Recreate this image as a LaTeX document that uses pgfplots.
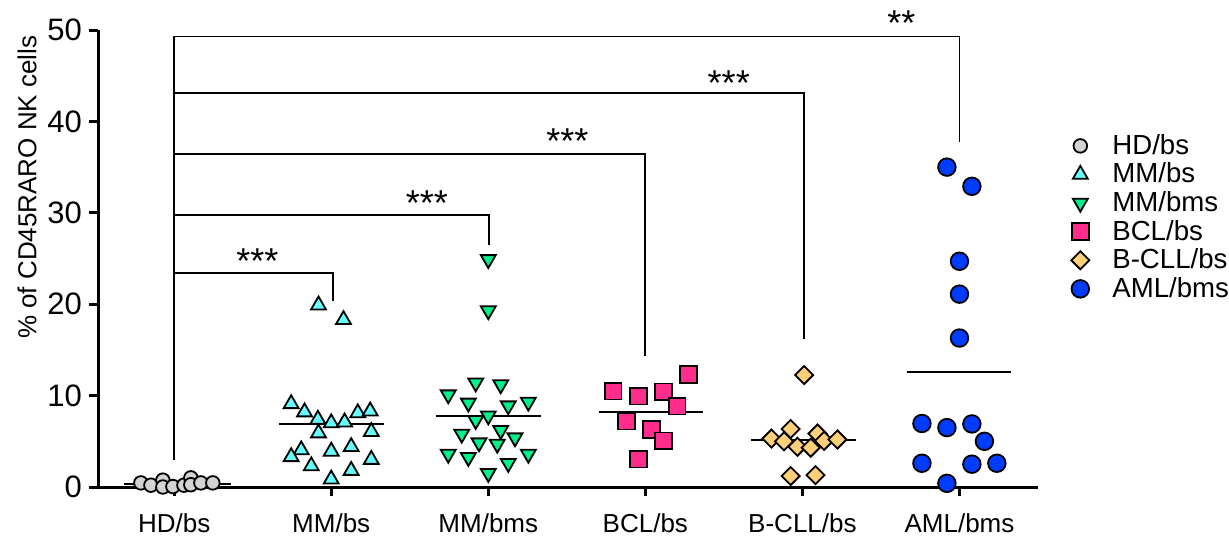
\documentclass[border=0pt]{standalone}
\usepackage{pgfplots}
\pgfplotsset{compat=1.18}
\usepackage{fontspec}
\setmainfont{Liberation Sans}
\definecolor{cHD}{RGB}{211,211,211}
\definecolor{cMMbs}{RGB}{102,255,255}
\definecolor{cMMbms}{RGB}{0,240,140}
\definecolor{cBCL}{RGB}{255,45,140}
\definecolor{cBCLL}{RGB}{255,208,120}
\definecolor{cAML}{RGB}{0,60,255}
\begin{document}
\begin{tikzpicture}
\begin{axis}[
  name=ax,
  scale only axis, width=470pt, height=228.5pt,
  xmin=0.515, xmax=6.5, ymin=0, ymax=50,
  axis lines*=left,
  axis line style={line width=1.5pt},
  clip=false,
  xtick={1,...,6},
  xticklabels={HD/bs,MM/bs,MM/bms,BCL/bs,B-CLL/bs,AML/bms},
  ytick={0,10,...,50},
  tick align=outside, major tick length=4.5pt,
  tick style={line width=1.5pt, black},
  xticklabel style={font=\fontsize{13}{15}\selectfont, yshift=-5.5pt},
  yticklabel style={font=\fontsize{15.5}{17}\selectfont},
  /pgf/number format/assume math mode=true,
  ylabel={\% of CD45RARO NK cells},
  ylabel style={at={(axis description cs:-0.0755,0.656)}, anchor=center, font=\fontsize{13}{15}\selectfont},
  legend style={at={(rel axis cs:1.0286,0.79)}, anchor=north west, draw=none, fill=none,
     font=\fontsize{13.8}{15}\selectfont, row sep=-1.2pt},
  legend cell align=left,
]
% HD/bs
\addplot[only marks, mark=*, mark size=3.4pt, mark options={fill=cHD, draw=black, line width=0.9pt}] coordinates {
(0.788,0.45) (0.852,0.2) (0.928,0.75) (0.928,0.0) (0.992,0.05) (1.062,0.2) (1.106,1.0) (1.106,0.25) (1.170,0.45) (1.246,0.45)};
\addlegendentry{\hspace{9.5pt}HD/bs}
% MM/bs
\addplot[only marks, mark=triangle*, mark size=4.3pt, mark options={fill=cMMbs, draw=black, line width=0.9pt}] coordinates {
(1.919,19.9) (2.078,18.3) (1.745,9.1) (1.830,8.2) (1.915,7.4) (2.000,7.0) (2.085,7.1) (2.169,8.1) (2.248,8.3)
(1.919,5.9) (2.255,6.05) (1.809,4.05) (1.745,3.3) (2.000,3.9) (2.127,4.4) (1.873,2.3) (2.255,3.0) (2.127,1.8) (2.000,0.85)};
\addlegendentry{\hspace{9.5pt}MM/bs}
% MM/bms
\addplot[only marks, mark=triangle*, mark size=4.3pt, mark options={rotate=180, fill=cMMbms, draw=black, line width=0.9pt}] coordinates {
(3.000,24.9) (3.000,19.3) (2.920,11.4) (3.079,11.2) (2.745,10.1) (2.873,9.2) (3.127,8.9) (3.255,9.3) (3.000,7.8) (2.920,7.3)
(2.831,5.8) (3.079,6.2) (3.170,5.4) (2.941,4.85) (3.057,4.7) (2.745,3.6) (2.873,3.25) (3.255,3.6) (3.127,2.6) (3.000,1.5)};
\addlegendentry{\hspace{9.5pt}MM/bms}
% BCL/bs
\addplot[only marks, mark=square*, mark size=4.2pt, mark options={fill=cBCL, draw=black, line width=0.9pt}] coordinates {
(4.276,12.3) (3.794,10.5) (3.957,9.95) (4.117,10.4) (4.202,8.85) (3.879,7.2) (4.038,6.3) (4.117,5.05) (3.957,3.05)};
\addlegendentry{\hspace{9.5pt}BCL/bs}
% B-CLL/bs
\addplot[only marks, mark=square*, mark size=3.2pt, mark options={rotate=45, fill=cBCLL, draw=black, line width=0.9pt}] coordinates {
(5.011,12.25) (4.925,6.35) (4.803,5.3) (4.883,5.0) (4.968,4.4) (5.053,4.3) (5.096,5.85) (5.138,5.05) (5.223,5.2) (4.925,1.2) (5.083,1.3)};
\addlegendentry{\hspace{9.5pt}B-CLL/bs}
% AML/bms
\addplot[only marks, mark=*, mark size=4.4pt, mark options={fill=cAML, draw=black, line width=0.9pt}] coordinates {
(5.920,35.0) (6.079,32.9) (6.000,24.7) (6.000,21.1) (6.000,16.3) (5.761,6.95) (5.920,6.5) (6.079,6.9) (6.159,5.0)
(5.761,2.6) (6.079,2.5) (6.238,2.6) (5.920,0.4)};
\addlegendentry{\hspace{9.5pt}AML/bms}
% mean / median lines
\addplot[black, line width=1pt, forget plot] coordinates {(0.68,0.3) (1.36,0.3)};
\addplot[black, line width=1pt, forget plot] coordinates {(1.669,6.9) (2.333,6.9)};
\addplot[black, line width=1pt, forget plot] coordinates {(2.667,7.8) (3.333,7.8)};
\addplot[black, line width=1pt, forget plot] coordinates {(3.707,8.2) (4.369,8.2)};
\addplot[black, line width=1pt, forget plot] coordinates {(4.675,5.15) (5.344,5.15)};
\addplot[black, line width=1pt, forget plot] coordinates {(5.666,12.6) (6.328,12.6)};
% significance brackets
\addplot[black, line width=0.9pt, forget plot] coordinates {(1,49.3) (1,2.95)};
\addplot[black, line width=0.9pt, forget plot] coordinates {(1,23.4) (2.01,23.4) (2.01,20.3)};
\addplot[black, line width=0.9pt, forget plot] coordinates {(1,29.8) (3.004,29.8) (3.004,26.5)};
\addplot[black, line width=0.9pt, forget plot] coordinates {(1,36.4) (4,36.4) (4,14.3)};
\addplot[black, line width=0.9pt, forget plot] coordinates {(1,43.1) (5.01,43.1) (5.01,16.2)};
\addplot[black, line width=0.9pt, forget plot] coordinates {(1,49.3) (6,49.3) (6,37.8)};
\node[font=\fontsize{18}{20}\selectfont, yshift=-4pt] at (axis cs:1.530,25.6) {***};
\node[font=\fontsize{18}{20}\selectfont, yshift=-4pt] at (axis cs:2.609,31.9) {***};
\node[font=\fontsize{18}{20}\selectfont, yshift=-4pt] at (axis cs:3.503,38.7) {***};
\node[font=\fontsize{18}{20}\selectfont, yshift=-4pt] at (axis cs:4.531,45.1) {***};
\node[font=\fontsize{18}{20}\selectfont, yshift=-4pt] at (axis cs:5.630,51.6) {**};
\end{axis}
\pgfresetboundingbox
\path ([shift={(-49pt,-27.5pt)}]ax.south west) rectangle ([shift={(565.5pt,243.5pt)}]ax.south west);
\end{tikzpicture}
\end{document}
